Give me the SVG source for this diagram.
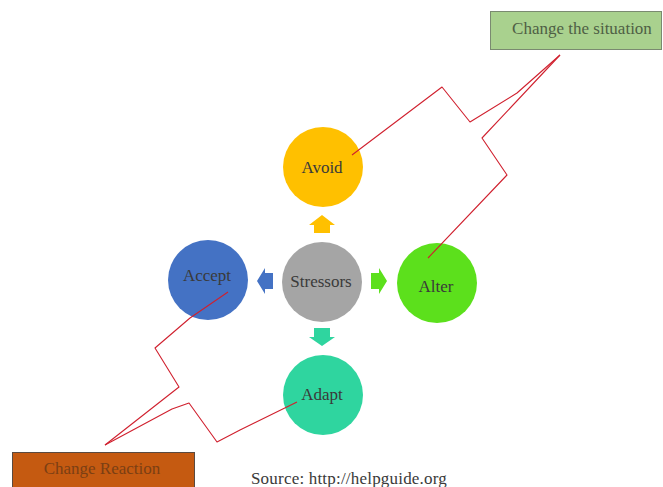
<svg xmlns="http://www.w3.org/2000/svg" width="663" height="487" viewBox="0 0 663 487">
<style>
.lbl{font-family:"Liberation Serif","DejaVu Serif",serif;font-size:17px;fill:#3a3a3a;text-anchor:middle}
.con{fill:none;stroke:#d0202e;stroke-width:1.1;stroke-linejoin:round}
</style>
<rect width="663" height="487" fill="#ffffff"/>
<g id="arrows">
<polygon fill="#ffc000" points="322,215 335,225 330,225 330,233 314,233 314,225 309,225"/>
<polygon fill="#4472c4" points="257,281 265,268 265,273 273,273 273,289 265,289 265,294"/>
<polygon fill="#5ce01c" points="387,281 379,268 379,273 371,273 371,289 379,289 379,294"/>
<polygon fill="#2fd59f" points="322,346 335,337 330,337 330,328 314,328 314,337 309,337"/>
</g>
<g id="avoid"><circle cx="323" cy="167" r="40" fill="#ffc000"/><text class="lbl" x="322" y="173">Avoid</text></g>
<g id="stressors"><circle cx="322" cy="282" r="40" fill="#a5a5a5"/><text class="lbl" x="321" y="287">Stressors</text></g>
<g id="accept"><circle cx="208" cy="280" r="40" fill="#4472c4"/><text class="lbl" x="207" y="281">Accept</text></g>
<g id="alter"><circle cx="437" cy="283" r="40" fill="#5ce01c"/><text class="lbl" x="436" y="292">Alter</text></g>
<g id="adapt"><circle cx="323" cy="395" r="40" fill="#2fd59f"/><text class="lbl" x="322" y="400">Adapt</text></g>
<g id="change-situation"><rect x="490.5" y="11.5" width="171" height="38" fill="#a9d18e" stroke="#7a8a70"/><text class="lbl" x="582" y="34" style="fill:#4f5f45">Change the situation</text></g>
<g id="change-reaction"><rect x="12.5" y="452.5" width="182" height="40" fill="#c55a11" stroke="#5a4a40"/><text class="lbl" x="102" y="474" style="fill:#7b3f14">Change Reaction</text></g>
<g id="connectors">
<polyline class="con" points="352,155 442,87 470,122 517,93 560,55"/>
<polyline class="con" points="560,55 482,138 507,175 428,258"/>
<polyline class="con" points="228,292 190,318 155,348 179,387 105,445"/>
<polyline class="con" points="297,402 240,430 217,442 189,403 172,409 105,445"/>
</g>
<text class="lbl" x="349" y="484" style="letter-spacing:0.2px">Source: http://helpguide.org</text>
</svg>
